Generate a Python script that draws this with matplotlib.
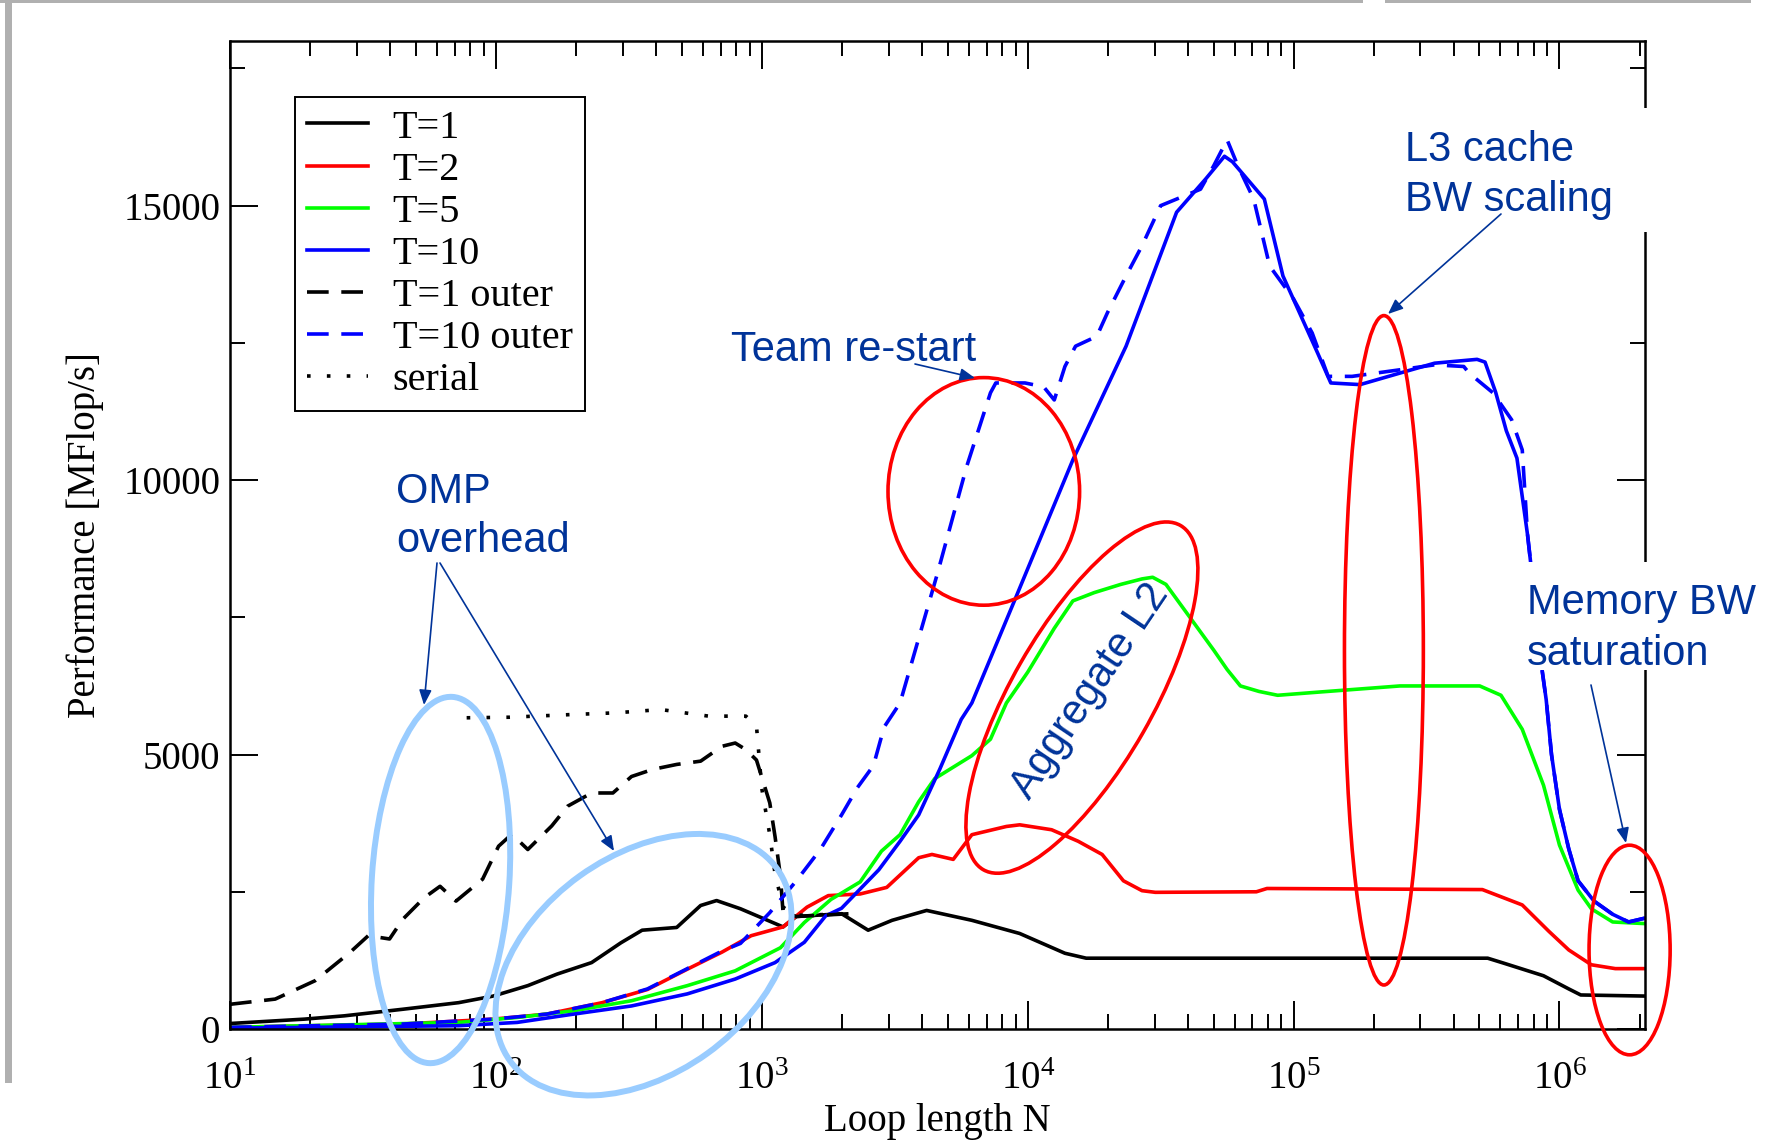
import matplotlib
matplotlib.use('Agg')
from matplotlib import pyplot as plt
from matplotlib.patches import Ellipse, Rectangle, FancyArrowPatch
from matplotlib.ticker import LogLocator, MultipleLocator, LogFormatterMathtext, NullFormatter
from matplotlib.transforms import Affine2D
import numpy as np

W, H = 1767, 1141

# curves: x as log10(N), y in MFlop/s
t1_logn = [1.0, 1.28, 1.43, 1.65, 1.86, 1.99, 2.12, 2.23, 2.36, 2.47, 2.55, 2.68, 2.77, 2.83, 2.92,
           3.08, 3.13, 3.30, 3.40, 3.49, 3.62, 3.79, 3.97, 4.14, 4.22, 5.73, 5.79, 5.94, 6.035, 6.08, 6.3216]
t1_perf = [100, 180, 240, 360, 480, 600, 790, 1000, 1210, 1570, 1800, 1850, 2250, 2340, 2190,
           1860, 2050, 2100, 1800, 1980, 2160, 1980, 1740, 1380, 1290, 1290, 1200, 970, 730, 620, 600]

t2_logn = [1.0, 1.65, 1.99, 2.19, 2.40, 2.57, 2.72, 2.85, 2.96, 3.08, 3.17, 3.25, 3.37, 3.47, 3.59,
           3.64, 3.72, 3.79, 3.92, 3.97, 4.09, 4.19, 4.28, 4.36, 4.43, 4.48, 4.86, 4.90, 5.71, 5.86,
           5.96, 6.035, 6.12, 6.21, 6.3216]
t2_perf = [30, 90, 180, 270, 480, 720, 1090, 1400, 1700, 1860, 2220, 2430, 2460, 2580, 3120,
           3180, 3090, 3540, 3690, 3720, 3630, 3420, 3180, 2700, 2520, 2490, 2500, 2560, 2540, 2260,
           1780, 1440, 1170, 1100, 1100]

t5_logn = [1.0, 1.28, 1.86, 2.08, 2.29, 2.51, 2.72, 2.90, 3.07, 3.16, 3.26, 3.37, 3.45, 3.52, 3.59,
           3.65, 3.79, 3.86, 3.92, 4.0, 4.1, 4.17, 4.25, 4.35, 4.43, 4.47, 4.52, 4.58, 4.64, 4.70,
           4.75, 4.80, 4.87, 4.94, 5.10, 5.40, 5.70, 5.78, 5.86, 5.94, 6.00, 6.07, 6.12, 6.20, 6.3216]
t5_perf = [30, 60, 120, 210, 330, 515, 790, 1060, 1480, 1940, 2360, 2680, 3240, 3540, 4140,
           4560, 4980, 5280, 5940, 6500, 7300, 7800, 7950, 8100, 8200, 8230, 8100, 7700, 7300, 6900,
           6550, 6250, 6150, 6080, 6140, 6250, 6250, 6080, 5460, 4440, 3350, 2530, 2190, 1950, 1920]

t10_logn = [1.0, 1.86, 2.08, 2.29, 2.51, 2.72, 2.90, 3.05, 3.16, 3.24, 3.30, 3.37, 3.44, 3.52, 3.59,
            3.67, 3.75, 3.79, 3.95, 4.17, 4.37, 4.56, 4.67, 4.74, 4.77, 4.89, 4.96, 5.09, 5.14, 5.25,
            5.40, 5.53, 5.69, 5.72, 5.76, 5.80, 5.84, 5.88, 5.91, 5.93, 5.95, 5.97, 6.00, 6.035, 6.07,
            6.13, 6.20, 6.26, 6.3216]
t10_perf = [15, 60, 120, 270, 420, 640, 910, 1210, 1580, 2060, 2200, 2550, 2900, 3420, 3900,
            4740, 5640, 5940, 7800, 10370, 12440, 14880, 15490, 15900, 15800, 15120, 13720, 12320, 11770, 11740,
            11950, 12130, 12200, 12150, 11600, 10900, 10400, 9000, 7700, 6700, 6000, 5000, 4000, 3280, 2700,
            2330, 2090, 1950, 2020]

t1o_logn = [1.0, 1.17, 1.32, 1.45, 1.52, 1.60, 1.65, 1.73, 1.79, 1.85, 1.95, 2.01, 2.06, 2.12, 2.21,
            2.27, 2.36, 2.44, 2.51, 2.59, 2.68, 2.77, 2.85, 2.90, 2.94, 2.98, 3.03, 3.05, 3.07, 3.08,
            3.13, 3.33]
t1o_perf = [450, 545, 880, 1390, 1700, 1640, 2000, 2390, 2600, 2330, 2730, 3330, 3550, 3270, 3700,
            4060, 4300, 4300, 4600, 4730, 4820, 4880, 5150, 5210, 5090, 4900, 4120, 3500, 2790, 2120,
            2050, 2100]

t10o_logn = [1.0, 1.65, 1.99, 2.19, 2.40, 2.57, 2.72, 2.85, 2.92, 3.03, 3.13, 3.22, 3.30, 3.36, 3.42,
             3.46, 3.52, 3.66, 3.77, 3.86, 3.88, 3.99, 4.06, 4.10, 4.14, 4.18, 4.26, 4.30, 4.37, 4.43,
             4.50, 4.56, 4.65, 4.70, 4.75, 4.79, 4.85, 4.91, 5.00, 5.07, 5.13, 5.22, 5.40, 5.53, 5.64,
             5.66, 5.75, 5.82, 5.86, 5.88, 5.91, 5.93, 5.95, 5.97, 6.00, 6.035, 6.07, 6.13, 6.20, 6.26,
             6.3216]
t10o_perf = [30, 90, 180, 270, 480, 730, 1100, 1420, 1560, 2120, 2700, 3270, 3900, 4400, 4800,
             5500, 5940, 8290, 10240, 11590, 11770, 11770, 11700, 11460, 12070, 12440, 12620, 13050, 13720, 14270,
             15000, 15120, 15300, 15730, 16200, 15730, 15120, 13900, 13300, 12680, 11890, 11890, 12010, 12100, 12070,
             11950, 11590, 11100, 10550, 9000, 7700, 6700, 6000, 5000, 4000, 3280, 2700, 2330, 2090, 1950,
             2020]

serial_logn = [1.89, 2.05, 2.29, 2.45, 2.62, 2.80, 2.94, 2.98, 3.00, 3.03, 3.05, 3.08, 3.13, 3.33]
serial_perf = [5670, 5680, 5730, 5760, 5820, 5700, 5700, 5520, 4380, 3540, 2820, 2220, 2070, 2100]

NOTE_BLUE = '#003399'
LIGHT_BLUE = '#99ccff'

plt.rcParams['font.family'] = ['Liberation Serif', 'DejaVu Serif']
plt.rcParams['mathtext.fontset'] = 'custom'
plt.rcParams['mathtext.rm'] = 'Liberation Serif'
plt.rcParams['mathtext.it'] = 'Liberation Serif:italic'

fig = plt.figure(figsize=(W / 100, H / 100), dpi=100)
ax = fig.add_axes([230 / W, 1 - 1029 / H, 1415 / W, 988 / H])

lw = 2.6
ax.plot(10 ** np.array(t1_logn), t1_perf, color='black', lw=lw, label='T=1')
ax.plot(10 ** np.array(t2_logn), t2_perf, color='#ff0000', lw=lw, label='T=2')
ax.plot(10 ** np.array(t5_logn), t5_perf, color='#00ff00', lw=lw, label='T=5')
ax.plot(10 ** np.array(t10_logn), t10_perf, color='#0000ff', lw=lw, label='T=10')
ax.plot(10 ** np.array(t1o_logn), t1o_perf, color='black', lw=lw, dashes=(6, 3.5), label='T=1 outer')
ax.plot(10 ** np.array(t10o_logn), t10o_perf, color='#0000ff', lw=lw, dashes=(6, 3.5), label='T=10 outer')
ax.plot(10 ** np.array(serial_logn), serial_perf, color='black', lw=lw, dashes=(1, 4.5), label='serial')

ax.set_xscale('log')
ax.set_xlim(10, 2 ** 21)
ax.set_ylim(0, 18000)

ax.xaxis.set_major_locator(LogLocator(base=10, numticks=10))
ax.xaxis.set_major_formatter(LogFormatterMathtext())
ax.xaxis.set_minor_locator(LogLocator(base=10, subs=np.arange(2, 10), numticks=50))
ax.xaxis.set_minor_formatter(NullFormatter())
ax.yaxis.set_major_locator(MultipleLocator(5000))
ax.yaxis.set_minor_locator(MultipleLocator(2500))

ax.tick_params(which='both', direction='in', top=True, right=True, width=1.4, labelsize=28)
ax.tick_params(which='major', length=20)
ax.tick_params(which='minor', length=11)
ax.tick_params(axis='x', pad=23)
ax.tick_params(axis='y', pad=7)
for s in ax.spines.values():
    s.set_linewidth(1.8)

ax.set_xlabel('Loop length N', fontsize=28, labelpad=4)
ax.set_ylabel('Performance [MFlop/s]', fontsize=28, labelpad=14)

leg = ax.legend(loc='upper left', bbox_to_anchor=(0.046, 0.943), borderaxespad=0, fontsize=29,
                handlelength=1.5, handletextpad=0.62, labelspacing=0.12, borderpad=0.3,
                fancybox=False, edgecolor='black', framealpha=1)
leg.get_frame().set_linewidth(1.4)

# overlay in pixel coordinates of the picture (origin top-left)
PX = Affine2D().scale(1 / W, -1 / H).translate(0, 1) + fig.transFigure

# slide frame remnants
for x0, y0, w, h in [(0, 0, 1363, 3), (1385, 0, 366, 3), (5, 0, 7, 1083)]:
    fig.add_artist(Rectangle((x0, y0), w, h, transform=PX, facecolor='#b0b0b0', edgecolor='none', zorder=1))

# white text boxes that hide part of the plot
for x0, y0, w, h in [(1395, 108, 372, 124), (1518, 562, 249, 108)]:
    fig.add_artist(Rectangle((x0, y0), w, h, transform=PX, facecolor='white', edgecolor='none', zorder=1.5))

# (cx, cy, width, height, angle, colour, linewidth)
ellipses = [
    (440.6, 880.0, 137.5, 367.0, 3.7, LIGHT_BLUE, 4.3),
    (643.5, 964.7, 329.0, 218.6, -35.7, LIGHT_BLUE, 4.3),
    (983.8, 491.4, 191.6, 227.6, 0, '#ff0000', 2.6),
    (1081.9, 697.6, 396.7, 140.9, -60.2, '#ff0000', 2.6),
    (1383.9, 650.3, 78.9, 669.4, 0, '#ff0000', 2.6),
    (1629.6, 950.0, 81.1, 209.6, 0, '#ff0000', 2.6),
]
for cx, cy, w, h, ang, col, elw in ellipses:
    fig.add_artist(Ellipse((cx, cy), w, h, angle=ang, transform=PX, fill=False,
                           edgecolor=col, lw=elw, zorder=2))

arrows = [
    ((437, 563), (424, 705)),
    ((440, 563), (614, 851)),
    ((915, 364), (975, 378)),
    ((1501, 214), (1388, 314)),
    ((1591, 685), (1626, 843)),
]
for tail, head in arrows:
    fig.add_artist(FancyArrowPatch(tail, head, transform=PX, arrowstyle='-|>,head_length=0.6,head_width=0.25',
                                   mutation_scale=15, color=NOTE_BLUE, lw=1.2, shrinkA=0, shrinkB=0, zorder=3))

notes = [
    (396, 503, 'OMP'), (396, 552, 'overhead'),
    (731, 361, 'Team re-start'),
    (1405, 161, 'L3 cache'), (1405, 211, 'BW scaling'),
    (1527, 614, 'Memory BW'), (1527, 665, 'saturation'),
]
for x, y, txt in notes:
    fig.text(x / W, 1 - y / H, txt, ha='left', va='baseline', fontsize=30,
             family=['Liberation Sans', 'DejaVu Sans'], color=NOTE_BLUE, zorder=4)
fig.text(1090 / W, 1 - 691 / H, 'Aggregate L2', ha='center', va='center', rotation=56,
         rotation_mode='anchor', fontsize=30, family=['Liberation Sans', 'DejaVu Sans'],
         color=NOTE_BLUE, zorder=4)

fig.savefig('out.png', dpi=100)
